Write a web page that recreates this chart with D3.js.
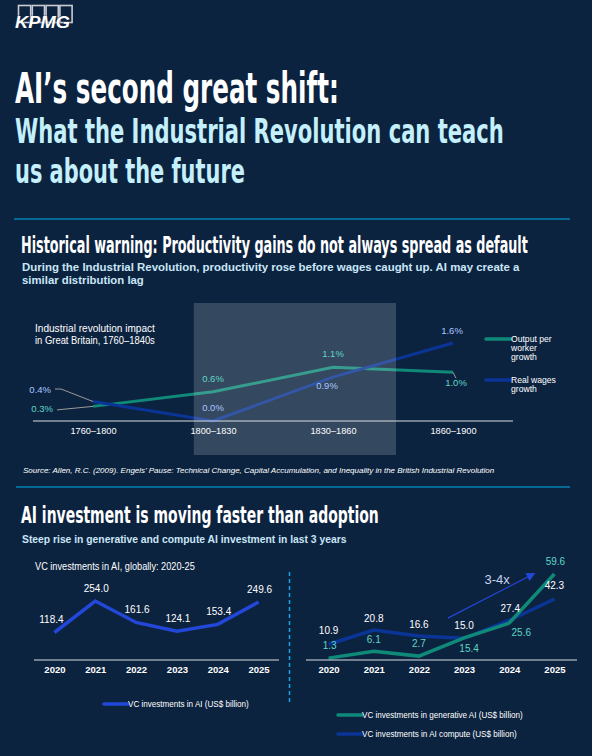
<!DOCTYPE html>
<html>
<head>
<meta charset="utf-8">
<script src="https://cdn.jsdelivr.net/npm/d3@7"></script>
<style>
  html, body { margin: 0; padding: 0; background: #0c2340; }
  svg { display: block; }
  text { font-family: "Liberation Sans", Arial, sans-serif; }
  .cond { font-family: "Liberation Sans Narrow", "DejaVu Sans Condensed", "Liberation Sans", sans-serif; font-weight: bold; }
</style>
</head>
<body>
<svg id="chart" width="592" height="756"></svg>
<script>
// ---------- DATA ----------
const periods = ["1760–1800", "1800–1830", "1830–1860", "1860–1900"];
const outputGrowth = [0.3, 0.6, 1.1, 1.0];   // Output per worker growth (%)
const wageGrowth = [0.4, 0.0, 0.9, 1.6];     // Real wages growth (%)

const years = ["2020", "2021", "2022", "2023", "2024", "2025"];
const vcAI = [118.4, 254.0, 161.6, 124.1, 153.4, 249.6];      // VC investments in AI (US$ bn)
const vcGenAI = [1.3, 6.1, 2.7, 15.4, 25.6, 59.6];            // generative AI
const vcCompute = [10.9, 20.8, 16.6, 15.0, 27.4, 42.3];       // AI compute

// ---------- STYLE / LAYOUT ----------
const C = {
  bg: "#0c2340", white: "#ffffff", cyan: "#00b0ea", sub: "#c4f0fc", subtext: "#c9e6f6",
  teal: "#0f8a78", tealLabel: "#5fd6c6", wage: "#0a3496", wageLabel: "#a9c6ff",
  vc: "#2347d8", grey: "#9a9a9a", axis: "#d8dde4"
};

const svg = d3.select("#chart");
svg.append("rect").attr("width", 592).attr("height", 756).attr("fill", C.bg);

// text helper: fits text to a given width by horizontal scaling (keeps bbox honest)
function ctext(x, y, size, color, str, len, cls, style) {
  const g = svg.append("g").attr("transform", `translate(${x},${y})`);
  const t = g.append("text").attr("x", 0).attr("y", 0).attr("font-size", size)
    .attr("fill", color).text(str);
  if (cls) t.attr("class", cls);
  if (style) Object.entries(style).forEach(([k, v]) => t.attr(k, v));
  if (len) {
    const w = t.node().getComputedTextLength();
    if (w > 0) g.attr("transform", `translate(${x},${y}) scale(${len / w},1)`);
  }
  return t;
}

// ---------- LOGO ----------
const logo = svg.append("g");
logo.selectAll("rect").data(d3.range(4)).join("rect")
  .attr("x", i => 18.5 + i * 13.8).attr("y", 5.5).attr("width", 12.2).attr("height", 17)
  .attr("fill", "none").attr("stroke", "#c9ccd2").attr("stroke-width", 1.6);
ctext(15, 28, 17, C.white, "KPMG", 55, null,
  { "font-weight": "bold", "font-style": "italic", stroke: C.bg, "stroke-width": 0.6, "paint-order": "stroke" });

// ---------- TITLES ----------
ctext(15, 103, 42, C.white, "AI’s second great shift:", 324, "cond");
ctext(15, 143, 34, C.sub, "What the Industrial Revolution can teach", 489, "cond");
ctext(15, 183, 34, C.sub, "us about the future", 230, "cond");

svg.append("line").attr("x1", 14).attr("x2", 570).attr("y1", 219).attr("y2", 219)
  .attr("stroke", C.cyan).attr("stroke-width", 1.2);

const B = { "font-weight": "bold" };
ctext(21, 253, 23.5, C.white, "Historical warning: Productivity gains do not always spread as default", 507, "cond");
ctext(22, 271, 11, C.subtext, "During the Industrial Revolution, productivity rose before wages caught up. AI may create a", 498, null, B);
ctext(22, 284, 11, C.subtext, "similar distribution lag", 122, null, B);

// ---------- CHART 1 ----------
const x1 = d3.scalePoint().domain(periods).range([33, 513]).padding(0.5);
const y1 = d3.scaleLinear().domain([0, 1.6]).range([421, 343]);

ctext(35, 332, 10, C.white, "Industrial revolution impact", 120);
ctext(35, 343.5, 10, C.white, "in Great Britain, 1760–1840s", 120);

const line1 = d3.line().x((d, i) => x1(periods[i])).y(d => y1(d));
svg.append("path").datum(outputGrowth).attr("d", line1).attr("fill", "none")
  .attr("stroke", C.teal).attr("stroke-width", 3);
svg.append("path").datum(wageGrowth).attr("d", line1).attr("fill", "none")
  .attr("stroke", C.wage).attr("stroke-width", 3);

// shaded highlight over the 1800–1860 span (drawn on top, translucent)
const step1 = x1.step();
svg.append("rect")
  .attr("x", x1("1800–1830") - step1 * 0.16)
  .attr("width", (x1("1830–1860") + step1 * 0.525) - (x1("1800–1830") - step1 * 0.16))
  .attr("y", 303).attr("height", 152)
  .attr("fill", "#ffffff").attr("fill-opacity", 0.17);

// axis
const ax1 = svg.append("g").attr("transform", "translate(0,421)")
  .call(d3.axisBottom(x1).tickSize(0).tickPadding(8));
ax1.select(".domain").attr("stroke", C.axis).attr("stroke-width", 1.2).attr("d", "M33,0H513");
ax1.selectAll("text").attr("fill", C.white).attr("font-size", 9.2)
  .attr("font-family", "Liberation Sans, Arial, sans-serif").attr("dy", "0.55em");

// leader lines
const leaderG = svg.append("g").attr("stroke", C.grey).attr("stroke-width", 1).attr("fill", "none");
leaderG.append("path").attr("d", `M${x1(periods[0]) - 38},${y1(wageGrowth[0]) - 12.5}h6L${x1(periods[0])},${y1(wageGrowth[0])}`);
leaderG.append("path").attr("d", `M${x1(periods[0]) - 36},${y1(outputGrowth[0]) + 3.5}L${x1(periods[0])},${y1(outputGrowth[0])}`);
leaderG.append("path").attr("d", `M${x1(periods[3])},${y1(outputGrowth[3])}l3,6`);

const pct = v => d3.format(".1f")(v) + "%";
const outOff = [[-40, 6, "end"], [0, -10, "middle"], [0, -10, "middle"], [3, 14, "middle"]];
const wageOff = [[-42, -8.5, "end"], [0, -10, "middle"], [-6, 12, "middle"], [-1, -9, "middle"]];
svg.append("g").selectAll("text").data(outputGrowth).join("text")
  .attr("x", (d, i) => x1(periods[i]) + outOff[i][0])
  .attr("y", (d, i) => y1(d) + outOff[i][1])
  .attr("text-anchor", (d, i) => outOff[i][2])
  .attr("font-size", 9.5).attr("fill", C.tealLabel).text(pct);
svg.append("g").selectAll("text").data(wageGrowth).join("text")
  .attr("x", (d, i) => x1(periods[i]) + wageOff[i][0])
  .attr("y", (d, i) => y1(d) + wageOff[i][1])
  .attr("text-anchor", (d, i) => wageOff[i][2])
  .attr("font-size", 9.5).attr("fill", C.wageLabel).text(pct);

// legend 1
const lg1 = [
  { color: C.teal, y: 339, lines: ["Output per", "worker", "growth"] },
  { color: C.wage, y: 380, lines: ["Real wages", "growth"] }
];
lg1.forEach(l => {
  svg.append("line").attr("x1", 486).attr("x2", 511).attr("y1", l.y).attr("y2", l.y)
    .attr("stroke", l.color).attr("stroke-width", 3.5).attr("stroke-linecap", "round");
  l.lines.forEach((s, k) => {
    svg.append("text").attr("x", 511).attr("y", l.y + 2.5 + k * 9.2)
      .attr("font-size", 8.6).attr("fill", C.white).text(s);
  });
});

ctext(23, 473, 7.6, C.white,
  "Source: Allen, R.C. (2009). Engels’ Pause: Technical Change, Capital Accumulation, and Inequality in the British Industrial Revolution", 472,
  null, { "font-style": "italic" });

svg.append("line").attr("x1", 16).attr("x2", 570).attr("y1", 487).attr("y2", 487)
  .attr("stroke", C.cyan).attr("stroke-width", 1.2);

ctext(21, 523, 23, C.white, "AI investment is moving faster than adoption", 358, "cond");
ctext(22, 543, 10, C.subtext, "Steep rise in generative and compute AI investment in last 3 years", 325, null, B);

// ---------- CHART 2 (left) ----------
const x2 = d3.scalePoint().domain(years).range([34, 279]).padding(0.5);
const y2 = d3.scaleLinear().domain([0, 254]).range([660, 601]);

ctext(35, 570, 10, C.white, "VC investments in AI, globally: 2020-25", 160);

svg.append("path").datum(vcAI)
  .attr("d", d3.line().x((d, i) => x2(years[i])).y(d => y2(d)))
  .attr("fill", "none").attr("stroke", C.vc).attr("stroke-width", 3.5);

const ax2 = svg.append("g").attr("transform", "translate(0,660)")
  .call(d3.axisBottom(x2).tickSize(0).tickPadding(8));
ax2.select(".domain").attr("stroke", C.axis).attr("stroke-width", 1.2).attr("d", "M34,0H279");
ax2.selectAll("text").attr("fill", C.white).attr("font-size", 9.5).attr("font-weight", "bold")
  .attr("font-family", "Liberation Sans, Arial, sans-serif").attr("dy", "0.55em");

const f1 = d3.format(".1f");
svg.append("g").selectAll("text").data(vcAI).join("text")
  .attr("x", (d, i) => x2(years[i]) + (i === 0 ? -3 : 1))
  .attr("y", d => y2(d) - 9.5)
  .attr("text-anchor", "middle").attr("font-size", 10).attr("fill", C.white).text(f1);

svg.append("line").attr("x1", 104).attr("x2", 128).attr("y1", 704).attr("y2", 704)
  .attr("stroke", C.vc).attr("stroke-width", 3.5).attr("stroke-linecap", "round");
ctext(128, 707, 8.5, C.white, "VC investments in AI (US$ billion)", 121);

// divider
svg.append("line").attr("x1", 289.5).attr("x2", 289.5).attr("y1", 572).attr("y2", 705)
  .attr("stroke", "#19a3e6").attr("stroke-width", 1.5).attr("stroke-dasharray", "4,3");

// ---------- CHART 3 (right) ----------
const x3 = d3.scalePoint().domain(years).range([306, 577]).padding(0.5);
const y3 = d3.scaleLinear().domain([0, 59.6]).range([660, 574]);
const line3 = d3.line().x((d, i) => x3(years[i])).y(d => y3(d));

svg.append("path").datum(vcCompute).attr("d", line3).attr("fill", "none")
  .attr("stroke", C.wage).attr("stroke-width", 3.5);
svg.append("path").datum(vcGenAI).attr("d", line3).attr("fill", "none")
  .attr("stroke", C.teal).attr("stroke-width", 3.5);

const ax3 = svg.append("g").attr("transform", "translate(0,660)")
  .call(d3.axisBottom(x3).tickSize(0).tickPadding(8));
ax3.select(".domain").attr("stroke", C.axis).attr("stroke-width", 1.2).attr("d", "M306,0H577");
ax3.selectAll("text").attr("fill", C.white).attr("font-size", 9.5).attr("font-weight", "bold")
  .attr("font-family", "Liberation Sans, Arial, sans-serif").attr("dy", "0.55em");

const compOff = [[0, -10], [0, -8], [0, -8], [0, -9], [1, -8.5], [0, -10]];
const genOff = [[1, -9], [0, -8], [0, -9], [5, 14], [12, 13], [1, -9]];
svg.append("g").selectAll("text").data(vcCompute).join("text")
  .attr("x", (d, i) => x3(years[i]) + compOff[i][0])
  .attr("y", (d, i) => y3(d) + compOff[i][1])
  .attr("text-anchor", "middle").attr("font-size", 10).attr("fill", C.white).text(f1);
svg.append("g").selectAll("text").data(vcGenAI).join("text")
  .attr("x", (d, i) => x3(years[i]) + genOff[i][0])
  .attr("y", (d, i) => y3(d) + genOff[i][1])
  .attr("text-anchor", "middle").attr("font-size", 10).attr("fill", C.tealLabel).text(f1);

// growth arrow annotation
const defs = svg.append("defs");
defs.append("marker").attr("id", "arr").attr("viewBox", "0 0 10 10").attr("refX", 9).attr("refY", 5)
  .attr("markerWidth", 9).attr("markerHeight", 9).attr("markerUnits", "userSpaceOnUse")
  .attr("orient", "auto")
  .append("path").attr("d", "M0,0L10,5L0,10z").attr("fill", C.vc);
const stp3 = x3.step();
svg.append("line")
  .attr("x1", x3("2023") - stp3 * 0.36).attr("y1", y3(29))
  .attr("x2", x3("2025") - stp3 * 0.44).attr("y2", y3(60))
  .attr("stroke", C.vc).attr("stroke-width", 1.2).attr("marker-end", "url(#arr)");
ctext(x3("2024") - stp3 * 0.55, 584, 13, "#c9d3ee", "3-4x");

// legend 3
[{ c: C.teal, y: 715, t: "VC investments in generative AI (US$ billion)", w: 161 },
 { c: C.wage, y: 734, t: "VC investments in AI compute (US$ billion)", w: 155 }].forEach(l => {
  svg.append("line").attr("x1", 338).attr("x2", 362).attr("y1", l.y).attr("y2", l.y)
    .attr("stroke", l.c).attr("stroke-width", 3.5).attr("stroke-linecap", "round");
  ctext(362, l.y + 3, 8.5, C.white, l.t, l.w);
});
</script>
</body>
</html>
